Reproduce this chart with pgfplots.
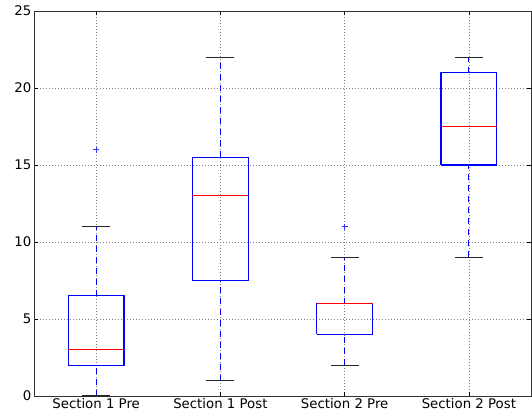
\documentclass[border=0pt]{standalone}
\usepackage{fontspec}
\setmainfont{DejaVu Sans}
\usepackage{pgfplots}
\pgfplotsset{compat=1.18}
\begin{document}
\begin{tikzpicture}[x=1pt,y=1pt]
\begin{axis}[
  scale only axis,
  width=497pt, height=385pt,
  xmin=0.5, xmax=4.5, ymin=0, ymax=25,
  xtick={1,2,3,4},
  xticklabels={Section 1 Pre, Section 1 Post, Section 2 Pre, Section 2 Post},
  ytick={0,5,10,15,20,25},
  tick align=inside,
  major tick length=4pt,
  tick style={black, line width=0.6pt},
  axis line style={black!80, line width=0.9pt},
  grid=major,
  grid style={black!50, dash pattern=on 1pt off 2pt, line width=0.6pt},
  ticklabel style={font=\fontsize{13.3}{15}\selectfont},
  xticklabel style={inner sep=2pt, yshift=-0.5pt},
  yticklabel style={inner sep=2.5pt},
  /pgf/number format/assume math mode=true,
  xtick pos=both, ytick pos=both,
  clip=false,
]
% Boxes (q1, q3)
\addplot[blue, line width=1.2pt] coordinates {(0.775,2) (1.225,2) (1.225,6.5) (0.775,6.5) (0.775,2)};
\addplot[blue, line width=1.2pt] coordinates {(1.775,7.5) (2.225,7.5) (2.225,15.5) (1.775,15.5) (1.775,7.5)};
\addplot[blue, line width=1.2pt] coordinates {(2.775,4) (3.225,4) (3.225,6) (2.775,6) (2.775,4)};
\addplot[blue, line width=1.2pt] coordinates {(3.775,15) (4.225,15) (4.225,21) (3.775,21) (3.775,15)};
% Whiskers
\addplot[blue, line width=1.2pt, dash pattern=on 6pt off 5pt] coordinates {(1,0) (1,2)};
\addplot[blue, line width=1.2pt, dash pattern=on 6pt off 5pt] coordinates {(1,6.5) (1,11)};
\addplot[blue, line width=1.2pt, dash pattern=on 6pt off 5pt] coordinates {(2,1) (2,7.5)};
\addplot[blue, line width=1.2pt, dash pattern=on 6pt off 5pt] coordinates {(2,15.5) (2,22)};
\addplot[blue, line width=1.2pt, dash pattern=on 6pt off 5pt] coordinates {(3,2) (3,4)};
\addplot[blue, line width=1.2pt, dash pattern=on 6pt off 5pt] coordinates {(3,6) (3,9)};
\addplot[blue, line width=1.2pt, dash pattern=on 6pt off 5pt] coordinates {(4,9) (4,15)};
\addplot[blue, line width=1.2pt, dash pattern=on 6pt off 5pt] coordinates {(4,21) (4,22)};
% Caps
\addplot[black!85, line width=1.2pt] coordinates {(0.8875,0) (1.1125,0)};
\addplot[black!85, line width=1.2pt] coordinates {(0.8875,11) (1.1125,11)};
\addplot[black!85, line width=1.2pt] coordinates {(1.8875,1) (2.1125,1)};
\addplot[black!85, line width=1.2pt] coordinates {(1.8875,22) (2.1125,22)};
\addplot[black!85, line width=1.2pt] coordinates {(2.8875,2) (3.1125,2)};
\addplot[black!85, line width=1.2pt] coordinates {(2.8875,9) (3.1125,9)};
\addplot[black!85, line width=1.2pt] coordinates {(3.8875,9) (4.1125,9)};
\addplot[black!85, line width=1.2pt] coordinates {(3.8875,22) (4.1125,22)};
% Medians
\addplot[red, line width=1.2pt] coordinates {(0.775,3) (1.225,3)};
\addplot[red, line width=1.2pt] coordinates {(1.775,13) (2.225,13)};
\addplot[red, line width=1.2pt] coordinates {(2.775,6) (3.225,6)};
\addplot[red, line width=1.2pt] coordinates {(3.775,17.5) (4.225,17.5)};
% Fliers
\addplot[only marks, mark=+, blue!80, mark size=3pt, line width=0.7pt] coordinates {(1,16) (3,11)};
% page margins like the reference
\path (rel axis cs:0,0) ++(-34pt,-20pt) (rel axis cs:1,1) ++(1pt,11pt);
\end{axis}
\end{tikzpicture}
\end{document}
